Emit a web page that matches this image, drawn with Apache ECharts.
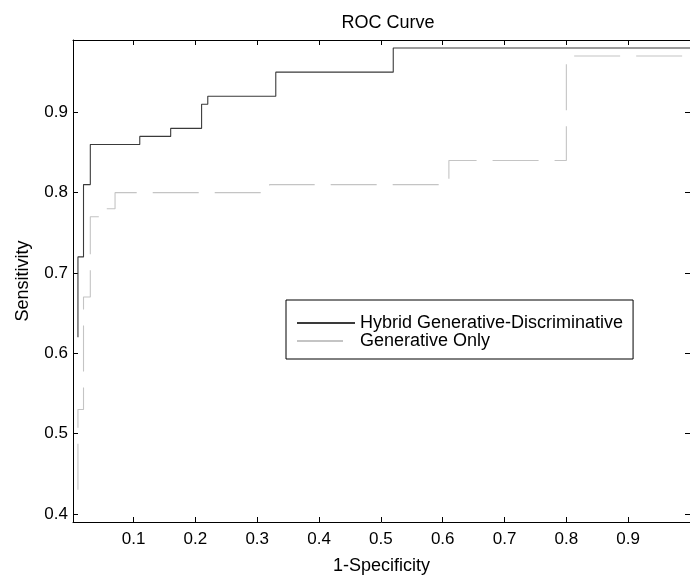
<!DOCTYPE html>
<html>
<head>
<meta charset="utf-8">
<script src="https://cdn.jsdelivr.net/npm/echarts@6/dist/echarts.min.js"></script>
<style>html,body{margin:0;padding:0;background:#fff}#c{width:690px;height:580px}</style>
</head>
<body>
<div id="c"></div>
<script>
// ROC vertices (1-Specificity, Sensitivity)
const hybridFpr = [0.01, 0.01, 0.019, 0.019, 0.03, 0.03, 0.11, 0.11, 0.16, 0.16, 0.21, 0.21, 0.22, 0.22, 0.33, 0.33, 0.52, 0.52, 1.0];
const hybridTpr = [0.62, 0.72, 0.72, 0.81, 0.81, 0.86, 0.86, 0.87, 0.87, 0.88, 0.88, 0.91, 0.91, 0.92, 0.92, 0.95, 0.95, 0.98, 0.98];
const genFpr = [0.01, 0.01, 0.019, 0.019, 0.03, 0.03, 0.047, 0.047, 0.07, 0.07, 0.32, 0.32, 0.61, 0.61, 0.80, 0.80, 1.0];
const genTpr = [0.43, 0.53, 0.53, 0.67, 0.67, 0.77, 0.77, 0.78, 0.78, 0.80, 0.80, 0.81, 0.81, 0.84, 0.84, 0.97, 0.97];
const xTicks = [0.1, 0.2, 0.3, 0.4, 0.5, 0.6, 0.7, 0.8, 0.9];
const yTicks = [0.4, 0.5, 0.6, 0.7, 0.8, 0.9];
const seriesNames = ['Hybrid Generative-Discriminative', 'Generative Only'];

const zip = (a, b) => a.map((v, i) => [v, b[i]]);
const font = 'Liberation Sans, Arial, Helvetica, sans-serif';
const chart = echarts.init(document.getElementById('c'));

function xAx(pos, show) {
  return {
    type: 'value', position: pos, min: 0.002, max: 1,
    axisLine: { show: true, onZero: false, lineStyle: { color: '#000', width: 1 } },
    axisTick: { show: true, inside: true, length: 5, customValues: xTicks, lineStyle: { color: '#000' } },
    axisLabel: { show: show, customValues: xTicks, color: '#000', fontSize: 17, fontFamily: font, margin: 9 },
    splitLine: { show: false },
    name: show ? '1-Specificity' : '', nameLocation: 'middle', nameGap: 35,
    nameTextStyle: { color: '#000', fontSize: 18, fontFamily: font }
  };
}
function yAx(pos, show) {
  return {
    type: 'value', position: pos, min: 0.39, max: 0.99,
    axisLine: { show: true, onZero: false, lineStyle: { color: '#000', width: 1 } },
    axisTick: { show: true, inside: true, length: 5, customValues: yTicks, lineStyle: { color: '#000' } },
    axisLabel: { show: show, customValues: yTicks, color: '#000', fontSize: 17, fontFamily: font, margin: 5 },
    splitLine: { show: false },
    name: show ? 'Sensitivity' : '', nameLocation: 'middle', nameGap: 41,
    nameTextStyle: { color: '#000', fontSize: 18, fontFamily: font }
  };
}

chart.setOption({
  animation: false,
  backgroundColor: '#fff',
  title: {
    text: 'ROC Curve', left: 383, top: 9, textAlign: 'center',
    textStyle: { color: '#000', fontSize: 18, fontWeight: 'normal', fontFamily: font }
  },
  grid: { left: 73, top: 40, width: 619, height: 490, containLabel: false },
  xAxis: [xAx('bottom', true), xAx('top', false)],
  yAxis: [yAx('left', true), yAx('right', false)],
  legend: {
    orient: 'vertical', left: 286, top: 300,
    padding: [14, 10, 9, 10], itemGap: 0,
    itemWidth: 58, itemHeight: 14,
    borderColor: '#000', borderWidth: 1, borderRadius: 0, backgroundColor: '#fff',
    itemStyle: { opacity: 0 },
    textStyle: { color: '#000', fontSize: 18, lineHeight: 17, fontFamily: font },
    data: seriesNames
  },
  series: [
    {
      name: seriesNames[0], type: 'line', xAxisIndex: 0, yAxisIndex: 0,
      data: zip(hybridFpr, hybridTpr), showSymbol: false, symbol: 'none',
      lineStyle: { color: '#3a3a3a', width: 1.1 }, itemStyle: { color: '#3a3a3a' }
    },
    {
      name: seriesNames[1], type: 'line', xAxisIndex: 0, yAxisIndex: 0,
      data: zip(genFpr, genTpr), showSymbol: false, symbol: 'none',
      lineStyle: { color: '#c4c4c4', width: 1.1, type: [46, 16] }, itemStyle: { color: '#c4c4c4' }
    }
  ]
});
</script>
</body>
</html>
